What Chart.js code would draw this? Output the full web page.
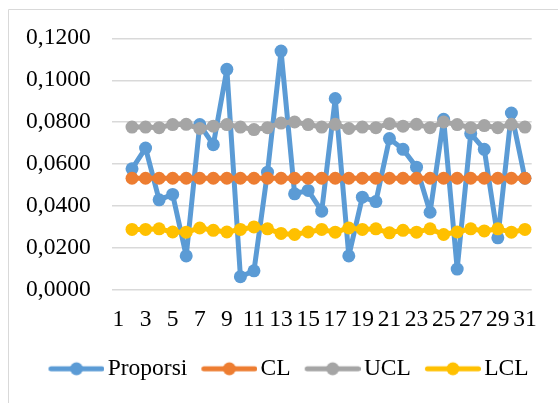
<!DOCTYPE html>
<html>
<head>
<meta charset="utf-8">
<script src="https://cdn.jsdelivr.net/npm/chart.js@4/dist/chart.umd.min.js"></script>
<style>
  html, body { margin: 0; padding: 0; background: #ffffff; }
  canvas { display: block; }
</style>
</head>
<body>
<canvas id="pchart" width="558" height="403"></canvas>
<script>
// Sample numbers (x categories); the series begin at sample 2
const categories = ['1','2','3','4','5','6','7','8','9','10','11','12','13','14','15','16',
                    '17','18','19','20','21','22','23','24','25','26','27','28','29','30','31'];

// Proportion of defectives per sample
const proporsi = [null, 0.0578, 0.0677, 0.0430, 0.0456, 0.0163, 0.0789, 0.0693, 0.1052, 0.0064,
                  0.0092, 0.0562, 0.1139, 0.0459, 0.0475, 0.0376, 0.0913, 0.0163, 0.0443, 0.0422,
                  0.0722, 0.0671, 0.0586, 0.0371, 0.0814, 0.0100, 0.0746, 0.0671, 0.0249, 0.0844,
                  0.0533];

// Centre line
const cl = [null, 0.0533, 0.0533, 0.0533, 0.0533, 0.0533, 0.0533, 0.0533, 0.0533, 0.0533,
            0.0533, 0.0533, 0.0533, 0.0533, 0.0533, 0.0533, 0.0533, 0.0533, 0.0533, 0.0533,
            0.0533, 0.0533, 0.0533, 0.0533, 0.0533, 0.0533, 0.0533, 0.0533, 0.0533, 0.0533,
            0.0533];

// Upper control limit
const ucl = [null, 0.0777, 0.0777, 0.0774, 0.0789, 0.0790, 0.0770, 0.0781, 0.0789, 0.0777,
             0.0765, 0.0774, 0.0796, 0.0801, 0.0789, 0.0777, 0.0790, 0.0770, 0.0777, 0.0774,
             0.0793, 0.0781, 0.0790, 0.0774, 0.0801, 0.0789, 0.0774, 0.0784, 0.0774, 0.0790,
             0.0777];

// Lower control limit
const lcl = [null, 0.0289, 0.0289, 0.0292, 0.0277, 0.0276, 0.0296, 0.0285, 0.0277, 0.0289,
             0.0301, 0.0292, 0.0270, 0.0265, 0.0277, 0.0289, 0.0276, 0.0296, 0.0289, 0.0292,
             0.0273, 0.0285, 0.0276, 0.0292, 0.0265, 0.0277, 0.0292, 0.0282, 0.0292, 0.0276,
             0.0289];

// y-axis tick values
const yTicks = [0, 0.02, 0.04, 0.06, 0.08, 0.10, 0.12];

const seriesNames = ['Proporsi', 'CL', 'UCL', 'LCL'];
const seriesColors = ['#5B9BD5', '#ED7D31', '#A5A5A5', '#FFC000'];

const FONT = { family: "'Liberation Serif', 'Times New Roman', serif", size: 23.5 };

// Legend symbol: a short thick line with a round marker in its middle.
// The image is centred on the 56px legend box but the line sits 8.5px to the
// right, so it runs almost up to the label text.
function legendIcon(color) {
  const c = document.createElement('canvas');
  c.width = 73; c.height = 16;
  const g = c.getContext('2d');
  g.strokeStyle = color;
  g.lineWidth = 5;
  g.lineCap = 'round';
  g.beginPath();
  g.moveTo(19.5, 8);
  g.lineTo(70.5, 8);
  g.stroke();
  g.fillStyle = color;
  g.beginPath();
  g.arc(45, 8, 6.5, 0, Math.PI * 2);
  g.fill();
  return c;
}
const icons = seriesColors.map(legendIcon);

function makeSet(name, values, color, order) {
  return {
    label: name,
    data: values,
    borderColor: color,
    backgroundColor: color,
    borderWidth: 5,
    borderJoinStyle: 'round',
    borderCapStyle: 'round',
    pointRadius: 6.5,
    pointBorderWidth: 0,
    pointBackgroundColor: color,
    pointHoverRadius: 6.5,
    tension: 0,
    order: order
  };
}

// Light outer frame of the chart area
const framePlugin = {
  id: 'frame',
  beforeDraw(chart) {
    const ctx = chart.ctx;
    ctx.save();
    ctx.strokeStyle = '#d9d9d9';
    ctx.lineWidth = 1;
    ctx.beginPath();
    ctx.moveTo(8.5, 403);
    ctx.lineTo(8.5, 9.5);
    ctx.lineTo(558, 9.5);
    ctx.stroke();
    ctx.restore();
  }
};

new Chart(document.getElementById('pchart'), {
  type: 'line',
  data: {
    labels: categories,
    datasets: [
      makeSet(seriesNames[0], proporsi, seriesColors[0], 4),
      makeSet(seriesNames[1], cl, seriesColors[1], 3),
      makeSet(seriesNames[2], ucl, seriesColors[2], 2),
      makeSet(seriesNames[3], lcl, seriesColors[3], 1)
    ]
  },
  plugins: [framePlugin],
  options: {
    responsive: false,
    animation: false,
    devicePixelRatio: 1,
    layout: { padding: { left: 10.5, right: 0, top: 38.3, bottom: 12.45 } },
    plugins: {
      tooltip: { enabled: false },
      legend: {
        position: 'bottom',
        labels: {
          font: FONT,
          color: '#000000',
          usePointStyle: true,
          pointStyleWidth: 56,
          padding: 5.5,
          sort: (a, b) => a.datasetIndex - b.datasetIndex,
          generateLabels(chart) {
            const items = Chart.defaults.plugins.legend.labels.generateLabels(chart);
            items.forEach(it => { it.pointStyle = icons[it.datasetIndex]; });
            return items;
          }
        }
      }
    },
    scales: {
      x: {
        offset: true,
        grid: { display: false, drawTicks: false },
        border: { display: false },
        ticks: {
          font: FONT,
          color: '#000000',
          autoSkip: false,
          maxRotation: 0,
          minRotation: 0,
          padding: 16,
          callback(value, index) {
            return index % 2 === 0 ? categories[index] : '';
          }
        },
        afterFit(scale) { scale.height = 61.45; }
      },
      y: {
        min: 0,
        max: 0.12,
        afterBuildTicks(scale) {
          scale.ticks = yTicks.map(v => ({ value: v }));
        },
        grid: { color: '#d9d9d9', lineWidth: 1.5, drawTicks: false },
        border: { display: false },
        ticks: {
          font: FONT,
          color: '#000000',
          padding: 21,
          callback(value) { return value.toFixed(4).replace('.', ','); }
        },
        afterFit(scale) { scale.width = 101.2; }
      },
      // blank right-hand margin of the plot
      yRight: {
        type: 'linear',
        position: 'right',
        display: true,
        grid: { display: false, drawTicks: false },
        border: { display: false },
        ticks: { display: false },
        afterFit(scale) { scale.width = 26.3; }
      }
    }
  }
});
</script>
</body>
</html>
